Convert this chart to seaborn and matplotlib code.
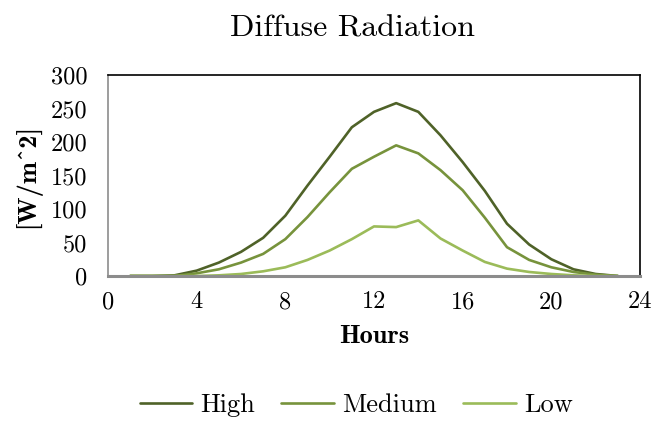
import numpy as np
import pandas as pd
import matplotlib
matplotlib.use("Agg")
import matplotlib.pyplot as plt
import seaborn as sns

hours = list(range(1, 24))
high = [0, 0, 1, 8, 20, 36, 57, 90, 135, 178, 222, 245, 258, 245, 210, 170, 127, 78, 47, 25, 10, 3, 0]
medium = [0, 0, 0, 4, 10, 20, 33, 55, 88, 125, 160, 178, 195, 183, 158, 128, 87, 43, 24, 13, 6, 2, 0]
low = [0, 0, 0, 0, 1, 3, 7, 13, 24, 38, 55, 74, 73, 83, 56, 38, 21, 11, 6, 3, 1, 0, 0]
series_names = ["High", "Medium", "Low"]
colors = ["#4F6228", "#77933C", "#9BBB59"]
x_ticks = [0, 4, 8, 12, 16, 20, 24]
y_ticks = [0, 50, 100, 150, 200, 250, 300]

df = pd.DataFrame({
    "Hours": hours * 3,
    "Value": high + medium + low,
    "Series": sum([[n] * len(hours) for n in series_names], []),
})

sns.set_theme(style="white")
plt.rcParams["font.family"] = ["cmr10", "DejaVu Serif"]
plt.rcParams["axes.formatter.use_mathtext"] = True
plt.rcParams["mathtext.fontset"] = "cm"
plt.rcParams["text.color"] = "black"
plt.rcParams["axes.labelcolor"] = "black"
plt.rcParams["xtick.color"] = "black"
plt.rcParams["ytick.color"] = "black"

fig = plt.figure(figsize=(6.59, 4.23), dpi=100)
ax = fig.add_axes([108 / 659, 1 - 276 / 423, (640 - 108) / 659, (276 - 75) / 423])

sns.lineplot(data=df, x="Hours", y="Value", hue="Series", hue_order=series_names,
             palette=colors, linewidth=1.9, ax=ax, legend=True)

ax.set_xlim(0, 24)
ax.set_ylim(0, 300)
ax.set_xticks(x_ticks)
ax.set_yticks(y_ticks)
ax.set_xticklabels([str(t) for t in x_ticks], fontsize=17.5, family="cmr10", color="black")
ax.set_yticklabels([str(t) for t in y_ticks], fontsize=17.5, family="cmr10", color="black")
ax.tick_params(axis="x", length=0, pad=11)
ax.tick_params(axis="y", length=0, pad=15)

ax.set_xlabel("Hours", fontsize=19, family="cmb10", labelpad=8, color="black")
ax.set_ylabel("[W/m^2]", fontsize=19, family="cmb10", labelpad=7, color="black")
ax.set_title("Diffuse Radiation", fontsize=23, family="cmr10", pad=28,
             x=(352.5 - 108) / 532, color="black")

for side in ["top", "right"]:
    ax.spines[side].set_color("black")
    ax.spines[side].set_linewidth(1.2)
ax.spines["left"].set_color("#8c8c8c")
ax.spines["left"].set_linewidth(1.2)
ax.spines["bottom"].set_color("#8c8c8c")
ax.spines["bottom"].set_linewidth(2.2)
for s in ax.spines.values():
    s.set_visible(True)

handles, labels = ax.get_legend_handles_labels()
ax.get_legend().remove()
fig.legend(handles, labels, loc="center", bbox_to_anchor=(356 / 659, 1 - 405 / 423),
           ncol=3, frameon=False, handlelength=2.0, handletextpad=0.3,
           columnspacing=1.0, labelcolor="black", prop={"family": "cmr10", "size": 19})

fig.savefig("out.png", dpi=100)
